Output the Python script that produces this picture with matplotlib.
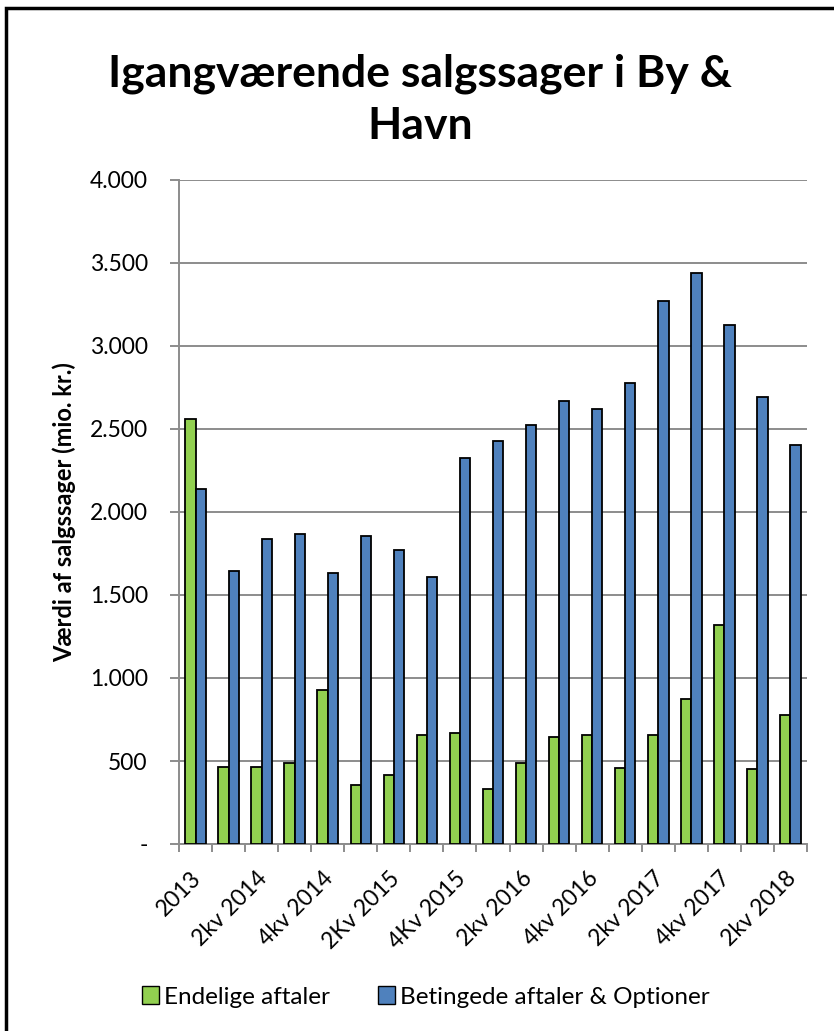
import matplotlib
matplotlib.use("Agg")
import matplotlib.pyplot as plt
import matplotlib.transforms as mtransforms
import numpy as np
from matplotlib.patches import Rectangle, Patch

categories = ["2013", "1kv 2014", "2kv 2014", "3kv 2014", "4kv 2014", "1kv 2015", "2Kv 2015",
              "3kv 2015", "4Kv 2015", "1kv 2016", "2kv 2016", "3kv 2016", "4kv 2016",
              "1kv 2017", "2kv 2017", "3kv 2017", "4kv 2017", "1kv 2018", "2kv 2018"]
endelige = [2560, 466, 466, 490, 925, 354, 415, 655, 671, 330, 490, 643, 655,
            460, 659, 873, 1320, 452, 777]
betingede = [2140, 1647, 1839, 1865, 1630, 1853, 1770, 1610, 2326, 2425, 2524, 2666, 2622,
             2776, 3273, 3439, 3127, 2690, 2404]
series_names = ["Endelige aftaler", "Betingede aftaler & Optioner"]
title = "Igangværende salgssager i By &\nHavn"
ylabel = "Værdi af salgssager (mio. kr.)"

plt.rcParams['font.family'] = ['Lato', 'DejaVu Sans']

W, H = 834, 1031
fig = plt.figure(figsize=(W / 100, H / 100), dpi=100)

# border (left and top visible)
fig.patches.append(Rectangle((6 / W, -0.1), 1.2, 1 - 8 / H + 0.1, transform=fig.transFigure,
                             fill=False, edgecolor='black', linewidth=2.5))

ax = fig.add_axes([179 / W, 1 - 844 / H, (807 - 179) / W, (844 - 180) / H])

green = '#92D050'
blue = '#4F81BD'
grid_c = '#8C8C8C'
x = np.arange(len(categories))
bw = 0.31
ax.bar(x - bw / 2, endelige, width=bw, color=green, edgecolor='black', linewidth=1.3, zorder=3)
ax.bar(x + bw / 2, betingede, width=bw, color=blue, edgecolor='black', linewidth=1.3, zorder=3)

ax.set_xlim(-0.5, len(categories) - 0.5)
ax.set_ylim(0, 4000)
yt = np.arange(0, 4001, 500)
ax.set_yticks(yt)
ax.set_yticklabels(["-"] + [f"{v:,}".replace(",", ".") for v in yt[1:]], fontsize=16.5)
ax.yaxis.grid(True, color=grid_c, linewidth=1.4, zorder=0)
ax.tick_params(axis='y', length=6.5, color=grid_c, width=1.4, pad=16)

# category boundaries as tick marks; labels on every other category
ax.set_xticks(np.arange(-0.5, len(categories), 1.0))
ax.set_xticklabels([])
ax.tick_params(axis='x', which='major', length=6, color=grid_c, width=1.4)
ax.set_xticks(x[::2], minor=True)
ax.set_xticklabels([categories[i] for i in x[::2]], minor=True, rotation=45,
                   ha='right', va='top', rotation_mode='anchor', fontsize=16.5)
ax.tick_params(axis='x', which='minor', length=0, pad=17)
off = mtransforms.ScaledTranslation(-5 / 100, 0, fig.dpi_scale_trans)
for lbl in ax.get_xticklabels(minor=True):
    lbl.set_transform(lbl.get_transform() + off)

for s in ['top', 'right']:
    ax.spines[s].set_visible(False)
for s in ['left', 'bottom']:
    ax.spines[s].set_color(grid_c)
    ax.spines[s].set_linewidth(1.4)

ax.set_ylabel(ylabel, fontsize=17, fontweight='bold', labelpad=10)

fig.text(420 / W, 1 - 100 / H, title, ha='center', va='center', fontsize=32,
         fontweight='bold', linespacing=1.35)

handles = [Patch(facecolor=green, edgecolor='black'), Patch(facecolor=blue, edgecolor='black')]
fig.legend(handles, series_names, loc='center', bbox_to_anchor=(426 / W, 1 - 997 / H), ncol=2,
           frameon=False, fontsize=17.5, handlelength=0.7, handleheight=0.7, handletextpad=0.2,
           columnspacing=2.0)

fig.savefig("out.png", dpi=100)
